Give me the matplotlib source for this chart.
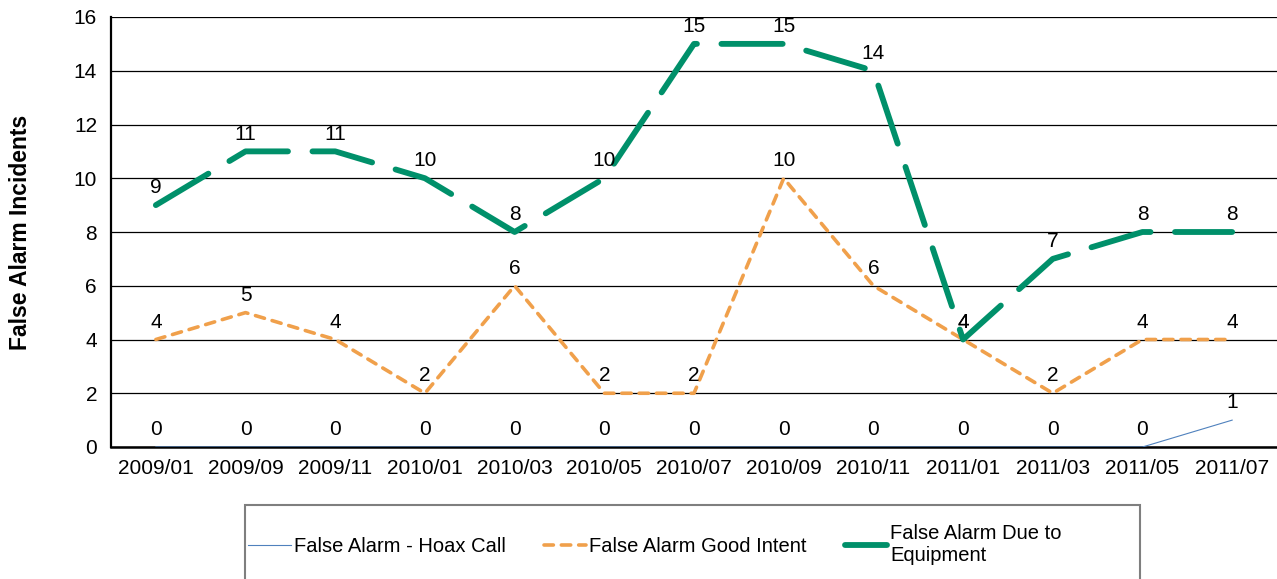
import matplotlib
matplotlib.use("Agg")
import matplotlib.pyplot as plt
from matplotlib.patches import Rectangle

plt.rcParams['font.family'] = ['Liberation Sans', 'DejaVu Sans']

months = ["2009/01", "2009/09", "2009/11", "2010/01", "2010/03", "2010/05", "2010/07",
          "2010/09", "2010/11", "2011/01", "2011/03", "2011/05", "2011/07"]
hoax = [0, 0, 0, 0, 0, 0, 0, 0, 0, 0, 0, 0, 1]
good_intent = [4, 5, 4, 2, 6, 2, 2, 10, 6, 4, 2, 4, 4]
equipment = [9, 11, 11, 10, 8, 10, 15, 15, 14, 4, 7, 8, 8]

fig = plt.figure(figsize=(12.77, 5.79), dpi=100)
ax = fig.add_axes([111/1277, 1-447/579, 1-111/1277, (447-17)/579])

x = list(range(len(months)))
l1, = ax.plot(x, hoax, color='#4f81bd', lw=0.8, label='False Alarm - Hoax Call', zorder=3)
l2, = ax.plot(x, good_intent, color='#f0a04b', lw=2.6, linestyle=(0, (2.6, 2.2)),
              dash_capstyle='round', label='False Alarm Good Intent', zorder=4)
l3, = ax.plot(x, equipment, color='#00906a', lw=4.2, linestyle=(0, (10.5, 4.2)),
              dash_capstyle='round', label='False Alarm Due to\nEquipment', zorder=5)

for series in (hoax, good_intent, equipment):
    for xi, v in zip(x, series):
        ax.annotate(str(v), (xi, v), xytext=(0, 12.5), textcoords='offset points',
                    ha='center', va='center', fontsize=15, color='black', zorder=6)

ax.set_xlim(-0.5, 12.5)
ax.set_ylim(0, 16)
ax.set_yticks(range(0, 17, 2))
ax.set_xticks(x)
ax.set_xticklabels(months)
ax.tick_params(axis='both', length=0, labelsize=15)
ax.tick_params(axis='y', pad=10)
ax.tick_params(axis='x', pad=9)
ax.grid(axis='y', color='black', lw=0.9)
ax.set_axisbelow(True)
for s in ('top', 'right'):
    ax.spines[s].set_visible(False)
ax.spines['left'].set_linewidth(1.6)
ax.spines['bottom'].set_linewidth(1.8)
ax.set_ylabel('False Alarm Incidents', fontsize=16.5, fontweight='bold', labelpad=30)

fig.patches.append(Rectangle((245/1277, -0.1), (1140-245)/1277, 0.1 + 1-505/579,
                             transform=fig.transFigure, fill=False,
                             edgecolor='#7f7f7f', lw=1.5))
fig.legend(handles=[l1, l2, l3], loc='center', bbox_to_anchor=(0.513, 0.059),
           ncol=3, frameon=False, fontsize=14.5, handlelength=2.1, handletextpad=0.15,
           columnspacing=1.9)

fig.savefig('out.png', dpi=100)
